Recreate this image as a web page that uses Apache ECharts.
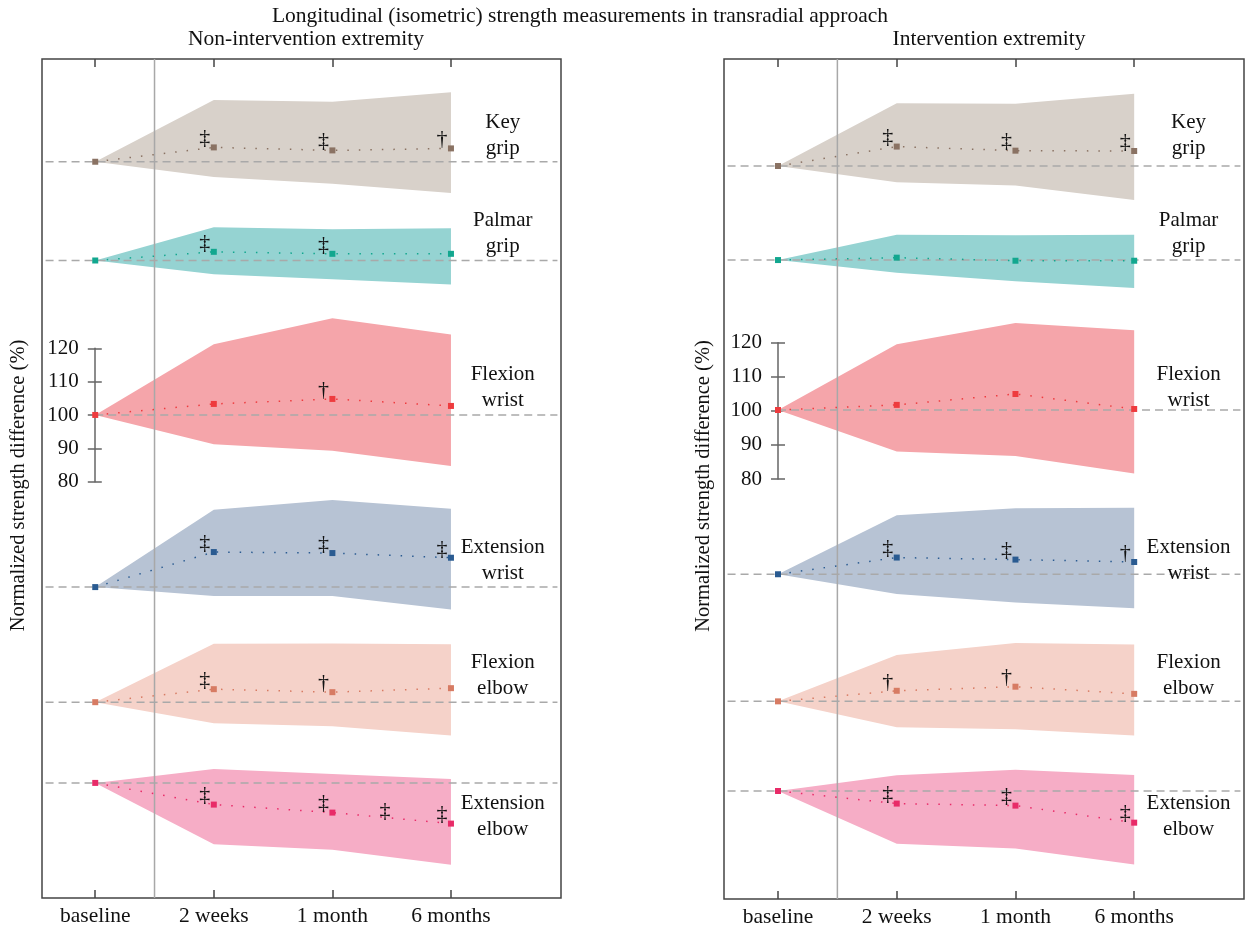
<!DOCTYPE html>
<html><head><meta charset="utf-8">
<script src="https://cdn.jsdelivr.net/npm/echarts@6/dist/echarts.min.js"></script>
<style>html,body{margin:0;padding:0;background:#fff}#c{width:1250px;height:932px}</style>
</head><body><div id="c"></div>
<script>
// ---------- DATA ----------
const timepoints = ['baseline', '2 weeks', '1 month', '6 months'];
const measures = ['Key\ngrip', 'Palmar\ngrip', 'Flexion\nwrist', 'Extension\nwrist', 'Flexion\nelbow', 'Extension\nelbow'];
const yTicks = [80, 90, 100, 110, 120];

// Non-intervention extremity (normalized %, baseline = 100)
const nonMean = [
  [100, 104.3, 103.4, 104.0],
  [100, 102.6, 102.0, 102.0],
  [100, 103.3, 104.8, 102.7],
  [100, 110.5, 110.2, 108.8],
  [100, 103.9, 103.0, 104.2],
  [100, 93.5, 91.1, 87.8]
];
const nonUpper = [
  [100, 118.5, 118.0, 120.8],
  [100, 110.0, 109.4, 109.7],
  [100, 121.2, 129.0, 124.1],
  [100, 123.2, 126.1, 123.5],
  [100, 117.5, 117.6, 117.4],
  [100, 104.2, 102.7, 101.2]
];
const nonLower = [
  [100, 95.4, 93.4, 90.6],
  [100, 95.9, 94.4, 92.8],
  [100, 91.2, 89.3, 84.7],
  [100, 97.3, 97.3, 93.3],
  [100, 93.7, 92.8, 90.0],
  [100, 81.6, 80.0, 75.5]
];
const nonMarks = [
  ['', '‡', '‡', '†'],
  ['', '‡', '‡', ''],
  ['', '', '†', ''],
  ['', '‡', '‡', '‡'],
  ['', '‡', '†', ''],
  ['', '‡', '‡', '‡']
];
const nonExtraMarks = [[5, 2.52, 88.9, '‡']];

// Intervention extremity
const intMean = [
  [100, 105.7, 104.5, 104.4],
  [100, 100.7, 99.8, 99.8],
  [100, 101.5, 104.7, 100.3],
  [100, 104.9, 104.3, 103.6],
  [100, 103.1, 104.3, 102.2],
  [100, 96.3, 95.7, 90.7]
];
const intUpper = [
  [100, 118.4, 118.3, 121.2],
  [100, 107.4, 107.3, 107.4],
  [100, 119.3, 125.5, 123.4],
  [100, 117.3, 119.4, 119.5],
  [100, 113.6, 117.1, 116.7],
  [100, 104.6, 106.2, 104.7]
];
const intLower = [
  [100, 95.2, 94.3, 90.0],
  [100, 96.3, 93.8, 91.8],
  [100, 87.8, 86.5, 81.4],
  [100, 94.2, 91.7, 90.0],
  [100, 92.4, 91.8, 90.0],
  [100, 84.5, 83.1, 78.4]
];
const intMarks = [
  ['', '‡', '‡', '‡'],
  ['', '', '', ''],
  ['', '', '', ''],
  ['', '‡', '‡', '†'],
  ['', '†', '†', ''],
  ['', '‡', '‡', '‡']
];
const intExtraMarks = [];

// ---------- STYLE / LAYOUT ----------
const FONT = '"Liberation Serif", "DejaVu Serif", serif';
const TXT = '#111';
const fillColors = ['#d8d1ca', '#95d3d2', '#f5a5aa', '#b7c3d4', '#f5d2c9', '#f6adc6'];
const markColors = ['#8a7263', '#12a78f', '#ee3b3e', '#2a5b91', '#d77b63', '#e82b68'];
const labelCenterPx = [135, 233.5, 387, 560, 675, 816];
const scaleRow = 2; // row whose baseline carries the 80-120 scale

const panels = [
  { title: 'Non-intervention extremity', titleX: 301,
    grid: { left: 42, top: 59, width: 519, height: 839 },
    xMin: -0.449, xMax: 3.928, yMin: -44.8, yMax: 206.7,
    rowBase: [175.9, 146.3, 100, 48.4, 13.9, -10.3],
    scaleGrid: { left: 94.8, top: 348.3, height: 133.4 },
    labelX: 3.437, nameGap: 13,
    mean: nonMean, upper: nonUpper, lower: nonLower, marks: nonMarks, extra: nonExtraMarks },
  { title: 'Intervention extremity', titleX: 984,
    grid: { left: 724, top: 59, width: 520, height: 840 },
    xMin: -0.455, xMax: 3.925, yMin: -43.5, yMax: 203.0,
    rowBase: [171.6, 144.0, 100, 51.8, 14.5, -11.8],
    scaleGrid: { left: 778, top: 342.7, height: 136.3 },
    labelX: 3.458, nameGap: 10,
    mean: intMean, upper: intUpper, lower: intLower, marks: intMarks, extra: intExtraMarks }
];

const grids = [], xAxes = [], yAxes = [], series = [], titles = [];

titles.push({ text: 'Longitudinal (isometric) strength measurements in transradial approach',
  left: 575, top: 0, textAlign: 'center',
  textStyle: { fontFamily: FONT, fontSize: 21.5, fontWeight: 'normal', color: TXT } });

panels.forEach((p, pi) => {
  titles.push({ text: p.title, left: p.titleX, top: 23, textAlign: 'center',
    textStyle: { fontFamily: FONT, fontSize: 21.5, fontWeight: 'normal', color: TXT } });
  grids.push(Object.assign({ show: true, borderColor: '#444', borderWidth: 1.5, backgroundColor: 'transparent' }, p.grid));
});
panels.forEach((p, pi) => {
  grids.push({ left: p.scaleGrid.left, top: p.scaleGrid.top, height: p.scaleGrid.height, width: 20 });
});

panels.forEach((p, pi) => {
  const tickVals = [0, 1, 2, 3];
  xAxes.push({ type: 'value', gridIndex: pi, position: 'bottom', min: p.xMin, max: p.xMax,
    axisLine: { show: false, onZero: false }, splitLine: { show: false },
    axisTick: { show: true, inside: true, length: 8, customValues: tickVals, lineStyle: { color: '#444', width: 1.5 } },
    axisLabel: { show: true, customValues: tickVals, margin: 7, fontFamily: FONT, fontSize: 21.5, color: TXT,
      formatter: v => timepoints[Math.round(v)] } });
  xAxes.push({ type: 'value', gridIndex: pi, position: 'top', min: p.xMin, max: p.xMax,
    axisLine: { show: false, onZero: false }, splitLine: { show: false }, axisLabel: { show: false },
    axisTick: { show: true, inside: true, length: 8, customValues: tickVals, lineStyle: { color: '#444', width: 1.5 } } });
  yAxes.push({ type: 'value', gridIndex: pi, min: p.yMin, max: p.yMax,
    axisLine: { show: false, onZero: false }, axisTick: { show: false }, axisLabel: { show: false }, splitLine: { show: false },
    name: 'Normalized strength difference (%)', nameLocation: 'middle', nameGap: p.nameGap,
    nameTextStyle: { fontFamily: FONT, fontSize: 20.5, color: TXT, padding: [0, 14, 0, 0] } });
});
panels.forEach((p, pi) => {
  xAxes.push({ type: 'value', gridIndex: 2 + pi, min: 0, max: 1, show: false, axisLine: { onZero: false } });
  yAxes.push({ type: 'value', gridIndex: 2 + pi, min: 80, max: 120, interval: 10, position: 'left',
    axisLine: { show: true, onZero: false, lineStyle: { color: '#666', width: 1.5 } },
    axisTick: { show: true, length: 7, lineStyle: { color: '#666', width: 1.5 } },
    axisLabel: { show: true, margin: 16, fontFamily: FONT, fontSize: 21, color: TXT,
      customValues: yTicks },
    splitLine: { show: false } });
  yAxes.push({ type: 'value', gridIndex: 2 + pi, min: 80, max: 120, interval: 10, position: 'left', offset: 0,
    axisLine: { show: false, onZero: false },
    axisTick: { show: true, inside: true, length: 7, lineStyle: { color: '#666', width: 1.5 } },
    axisLabel: { show: false }, splitLine: { show: false } });
});

panels.forEach((p, pi) => {
  const xi = pi * 2, yi = pi;
  const unitPx = p.grid.height / (p.yMax - p.yMin);
  const toPlot = (r, v) => p.rowBase[r] + v - 100;

  // bands
  series.push({ type: 'custom', xAxisIndex: xi, yAxisIndex: yi, z: 1, silent: true,
    data: measures.map((m, r) => [1.5, p.rowBase[r], r]),
    renderItem: (params, api) => {
      const r = api.value(2);
      const pts = [];
      for (let i = 0; i < 4; i++) pts.push(api.coord([i, toPlot(r, p.upper[r][i])]));
      for (let i = 3; i >= 0; i--) pts.push(api.coord([i, toPlot(r, p.lower[r][i])]));
      return { type: 'polygon', shape: { points: pts }, style: { fill: fillColors[r] } };
    } });

  // dashed baselines
  measures.forEach((m, r) => {
    const x0 = r === scaleRow ? 0 : p.xMin + 0.03;
    series.push({ type: 'line', xAxisIndex: xi, yAxisIndex: yi, z: 2, silent: true, symbol: 'none',
      data: [[x0, p.rowBase[r]], [p.xMax - 0.03, p.rowBase[r]]],
      lineStyle: { color: '#a9a9a9', width: 1.5, type: [8, 5] } });
  });

  // vertical separator
  series.push({ type: 'line', xAxisIndex: xi, yAxisIndex: yi, z: 3, silent: true, symbol: 'none',
    data: [[0.5, p.yMin], [0.5, p.yMax]], lineStyle: { color: '#a8a8a8', width: 1.5 } });

  // mean lines with markers
  measures.forEach((m, r) => {
    series.push({ type: 'line', xAxisIndex: xi, yAxisIndex: yi, z: 5, silent: true,
      symbol: 'rect', symbolSize: 6, showAllSymbol: true,
      itemStyle: { color: markColors[r] },
      lineStyle: { color: markColors[r], width: 1.5, type: [1.5, 10] },
      data: p.mean[r].map((v, i) => [i, toPlot(r, v)]) });
  });

  // significance marks
  const markData = [];
  p.marks.forEach((row, r) => row.forEach((g, i) => {
    if (g) markData.push({ value: [i, toPlot(r, p.mean[r][i])], label: { formatter: g } });
  }));
  p.extra.forEach(e => markData.push({ value: [e[1], toPlot(e[0], e[2])], label: { formatter: e[3] } }));
  series.push({ type: 'scatter', xAxisIndex: xi, yAxisIndex: yi, z: 6, silent: true, symbolSize: 0,
    itemStyle: { opacity: 1 },
    data: markData,
    label: { show: true, position: 'inside', offset: [-9, -9], fontFamily: FONT, fontSize: 22, color: TXT } });

  // row labels
  series.push({ type: 'scatter', xAxisIndex: xi, yAxisIndex: yi, z: 6, silent: true, symbolSize: 0,
    itemStyle: { opacity: 1 },
    data: measures.map((m, r) => ({
      value: [p.labelX, p.yMax - (labelCenterPx[r] - p.grid.top) / unitPx],
      label: { formatter: m } })),
    label: { show: true, position: 'inside', fontFamily: FONT, fontSize: 21, lineHeight: 26,
      color: TXT, align: 'center', verticalAlign: 'middle' } });
});

const chart = echarts.init(document.getElementById('c'), null, { renderer: 'canvas' });
chart.setOption({
  animation: false,
  backgroundColor: '#fff',
  title: titles,
  grid: grids,
  xAxis: xAxes,
  yAxis: yAxes,
  series: series
});
</script>
</body></html>
